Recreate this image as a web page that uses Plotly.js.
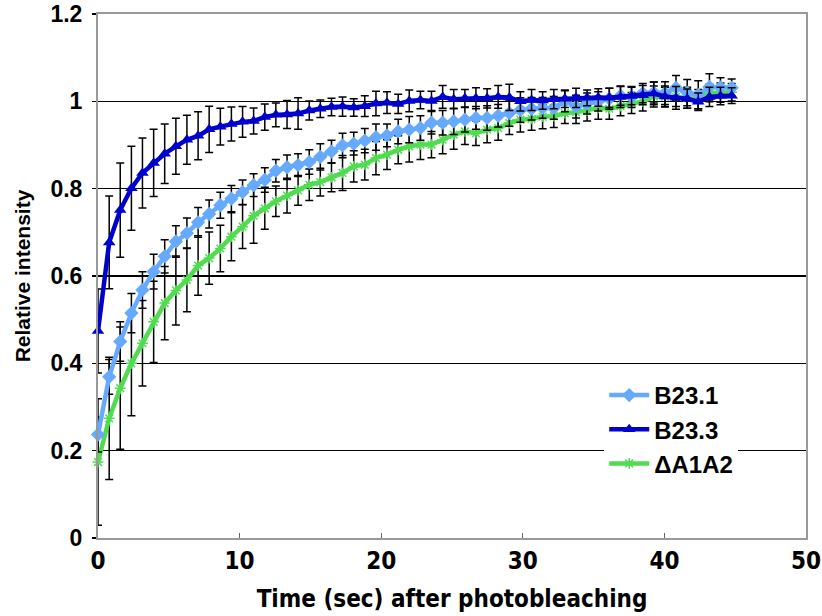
<!DOCTYPE html>
<html>
<head>
<meta charset="utf-8">
<script src="https://cdn.plot.ly/plotly-3.0.1.min.js"></script>
<style>html,body{margin:0;padding:0;background:#fff;}#chart{width:822px;height:616px;}</style>
</head>
<body>
<div id="chart"></div>
<script>
// Time points (sec after photobleaching)
const timeSec = [0, 0.79, 1.57, 2.36, 3.14, 3.93, 4.71, 5.50, 6.28, 7.07, 7.85, 8.64, 9.42, 10.21, 10.99, 11.78, 12.56, 13.35, 14.13, 14.92, 15.70, 16.49, 17.27, 18.06, 18.84, 19.63, 20.41, 21.20, 21.98, 22.77, 23.55, 24.34, 25.12, 25.91, 26.69, 27.48, 28.26, 29.05, 29.83, 30.62, 31.40, 32.19, 32.97, 33.76, 34.54, 35.33, 36.11, 36.90, 37.68, 38.47, 39.25, 40.04, 40.82, 41.61, 42.39, 43.18, 43.96, 44.75];

const seriesNames = ["B23.1", "B23.3", "\u0394A1A2"];

const b231 = [0.237,0.369,0.450,0.515,0.568,0.610,0.645,0.679,0.698,0.723,0.742,0.762,0.777,0.792,0.808,0.820,0.841,0.849,0.854,0.861,0.873,0.885,0.899,0.903,0.910,0.918,0.922,0.931,0.935,0.939,0.951,0.951,0.954,0.958,0.962,0.962,0.967,0.973,0.980,0.983,0.985,0.985,1.000,0.988,0.995,1.000,1.006,1.013,1.010,1.019,1.020,1.019,1.031,1.020,1.015,1.033,1.032,1.031];
const b231Err = [0.040,0.040,0.045,0.045,0.042,0.040,0.038,0.036,0.035,0.034,0.032,0.030,0.030,0.028,0.026,0.028,0.026,0.028,0.026,0.028,0.030,0.026,0.028,0.026,0.028,0.030,0.026,0.028,0.030,0.028,0.026,0.028,0.030,0.028,0.026,0.028,0.026,0.030,0.028,0.026,0.024,0.026,0.024,0.026,0.024,0.022,0.024,0.022,0.024,0.022,0.024,0.026,0.028,0.030,0.032,0.030,0.022,0.020];

const b233 = [0.474,0.677,0.751,0.801,0.836,0.859,0.880,0.897,0.912,0.921,0.936,0.942,0.948,0.953,0.955,0.964,0.969,0.970,0.972,0.979,0.983,0.987,0.988,0.986,0.989,0.995,0.997,0.994,1.001,1.003,1.001,1.010,1.005,1.007,1.007,1.007,1.010,1.009,1.000,1.003,1.002,1.005,1.006,1.008,1.008,1.009,1.008,1.010,1.012,1.014,1.018,1.011,1.008,1.006,0.999,1.010,1.012,1.013];
const b233Err = [0.096,0.106,0.108,0.096,0.080,0.077,0.068,0.064,0.056,0.055,0.053,0.042,0.039,0.035,0.030,0.030,0.027,0.032,0.036,0.022,0.020,0.020,0.022,0.020,0.024,0.028,0.025,0.022,0.025,0.020,0.022,0.026,0.022,0.020,0.024,0.022,0.026,0.030,0.022,0.024,0.020,0.022,0.020,0.022,0.018,0.020,0.022,0.024,0.020,0.022,0.026,0.024,0.026,0.022,0.020,0.022,0.020,0.018];

const dA1A2 = [0.174,0.274,0.343,0.400,0.446,0.495,0.538,0.567,0.591,0.624,0.641,0.663,0.690,0.713,0.738,0.755,0.771,0.784,0.796,0.809,0.815,0.826,0.836,0.851,0.855,0.870,0.878,0.889,0.897,0.901,0.901,0.912,0.924,0.931,0.927,0.935,0.939,0.950,0.958,0.960,0.965,0.966,0.973,0.975,0.979,0.985,0.983,0.989,0.996,1.000,1.011,1.010,1.010,1.008,1.005,1.019,1.020,1.021];
const dA1A2Err = [0.145,0.140,0.140,0.120,0.098,0.093,0.084,0.079,0.073,0.068,0.060,0.053,0.055,0.050,0.063,0.048,0.035,0.040,0.034,0.036,0.032,0.033,0.040,0.036,0.035,0.038,0.034,0.032,0.036,0.034,0.030,0.032,0.034,0.030,0.028,0.030,0.028,0.026,0.028,0.026,0.028,0.026,0.024,0.026,0.024,0.026,0.024,0.022,0.024,0.022,0.024,0.022,0.022,0.024,0.022,0.020,0.022,0.020];

const xTickVals = [0, 10, 20, 30, 40, 50];
const yTickVals = [0, 0.2, 0.4, 0.6, 0.8, 1, 1.2];
const yTickText = ["0", "0.2", "0.4", "0.6", "0.8", "1", "1.2"];

const errStyle = {type: "data", visible: true, color: "#000", thickness: 1.5, width: 4};

const traces = [
  {
    x: timeSec, y: dA1A2, name: seriesNames[2], type: "scatter", mode: "lines+markers",
    line: {color: "#4fdd4f", width: 4.5},
    marker: {symbol: "asterisk-open", size: 9, color: "#4fdd4f", line: {color: "#4fdd4f", width: 1.5}},
    error_y: Object.assign({array: dA1A2Err}, errStyle),
    cliponaxis: false, legendrank: 3
  },
  {
    x: timeSec, y: b231, name: seriesNames[0], type: "scatter", mode: "lines+markers",
    line: {color: "#66aaff", width: 4.5},
    marker: {symbol: "diamond", size: 11, color: "#66aaff"},
    error_y: Object.assign({array: b231Err}, errStyle),
    cliponaxis: false, legendrank: 1
  },
  {
    x: timeSec, y: b233, name: seriesNames[1], type: "scatter", mode: "lines+markers",
    line: {color: "#0000cc", width: 4.5},
    marker: {symbol: "triangle-up", size: 11, color: "#0000cc"},
    error_y: Object.assign({array: b233Err}, errStyle),
    cliponaxis: false, legendrank: 2
  }
];

const boldFont = "Liberation Sans, Arial, sans-serif";
const narrowFont = "DejaVu Sans Condensed, Liberation Sans Narrow, Arial Narrow, Liberation Sans, Arial, sans-serif";

const layout = {
  width: 822, height: 616,
  margin: {l: 98, r: 16, t: 14, b: 78},
  paper_bgcolor: "#fff", plot_bgcolor: "#fff",
  showlegend: true,
  legend: {
    x: 0.715, y: 0.315, xanchor: "left", yanchor: "top",
    bgcolor: "#fff", borderwidth: 0,
    font: {family: boldFont, size: 24, color: "#000", weight: "bold"},
    tracegroupgap: 0, itemwidth: 40
  },
  xaxis: {
    range: [0, 50], tickvals: xTickVals, ticktext: xTickVals.map(String),
    showgrid: false, zeroline: false,
    showline: true, linecolor: "#999", linewidth: 2, mirror: true,
    ticks: "inside", ticklen: 5, tickcolor: "#666", tickwidth: 1,
    ticklabelstandoff: 0,
    tickfont: {family: narrowFont, size: 24, color: "#000", weight: "bold"},
    title: {text: "Time (sec) after photobleaching", font: {family: narrowFont, size: 24, color: "#000", weight: "bold"}, standoff: 16}
  },
  yaxis: {
    range: [0, 1.2], tickvals: yTickVals, ticktext: yTickText,
    showgrid: true, gridcolor: "#000", gridwidth: 1.5,
    zeroline: false,
    showline: true, linecolor: "#999", linewidth: 2, mirror: true,
    ticks: "outside", ticklen: 4, tickcolor: "#000", tickwidth: 1.5,
    ticklabelstandoff: 5,
    tickfont: {family: boldFont, size: 23, color: "#000", weight: "bold"},
    title: {text: "Relative intensity", font: {family: boldFont, size: 21, color: "#000", weight: "bold"}, standoff: 14}
  }
};

Plotly.newPlot("chart", traces, layout, {displayModeBar: false, staticPlot: true});
</script>
</body>
</html>
